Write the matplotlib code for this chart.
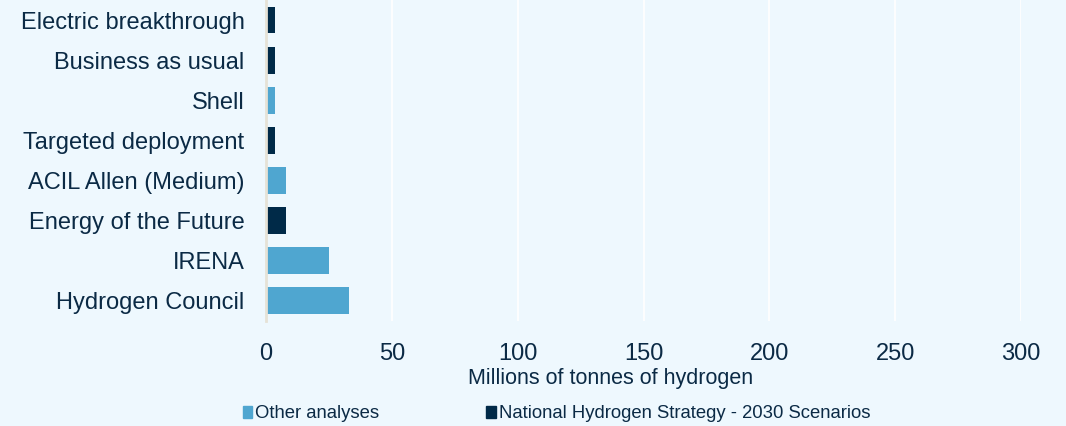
import matplotlib.pyplot as plt
from matplotlib.patches import Patch

plt.rcParams['font.family'] = ['Liberation Sans', 'DejaVu Sans']

# scenarios, top to bottom
labels = ['Electric breakthrough', 'Business as usual', 'Shell', 'Targeted deployment',
          'ACIL Allen (Medium)', 'Energy of the Future', 'IRENA', 'Hydrogen Council']
values = [3.5, 3.5, 3.7, 3.5, 8, 8, 25, 33]
groups = ['nhs', 'nhs', 'other', 'nhs', 'other', 'nhs', 'other', 'other']

bg = '#eef8fe'
dark = '#002a48'
light = '#4fa6d0'
txt = '#0b2a45'

colors = [dark if g == 'nhs' else light for g in groups]

fig = plt.figure(figsize=(10.66, 4.26), dpi=100, facecolor=bg)
ax = fig.add_axes([266 / 1066, 1 - 320.5 / 426, 755 / 1066, 320.5 / 426])
ax.set_facecolor(bg)

ypos = list(range(len(labels)))
ax.barh(ypos, values, height=0.67, color=colors, zorder=3)
ax.set_ylim(len(labels) - 0.5, -0.5)
ax.set_xlim(0, 300)
ax.set_xticks(range(0, 301, 50))
ax.set_yticks(ypos)
ax.set_yticklabels(labels, fontsize=17, color=txt)
ax.tick_params(axis='x', labelsize=17, labelcolor=txt, length=0, pad=16.5)
ax.tick_params(axis='y', length=0, pad=15.5)
ax.grid(axis='x', color='white', linewidth=1.2, zorder=0)
for s in ['top', 'right', 'bottom']:
    ax.spines[s].set_visible(False)
ax.spines['left'].set_color('#e6e2d6')
ax.spines['left'].set_linewidth(2)
ax.spines['left'].set_zorder(4)
ax.set_xlabel('Millions of tonnes of hydrogen', fontsize=15.5, color=txt, labelpad=2, x=0.457)

handles = [Patch(color=light, label='Other analyses'),
           Patch(color=dark, label='National Hydrogen Strategy - 2030 Scenarios')]
leg = fig.legend(handles=handles, loc='center left', bbox_to_anchor=(243 / 1066, 1 - 414 / 426),
                 ncol=2, frameon=False, fontsize=13.3, handlelength=0.5, handleheight=0.55,
                 handletextpad=0.16, columnspacing=5.8, borderaxespad=0, borderpad=0)
for t in leg.get_texts():
    t.set_color(txt)

fig.savefig('out.png', dpi=100, facecolor=bg)
